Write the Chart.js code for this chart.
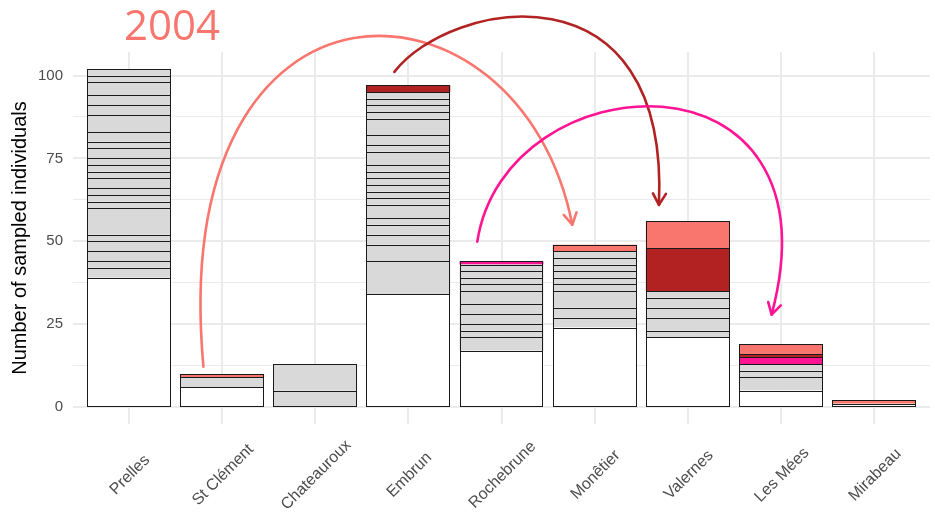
<!DOCTYPE html>
<html lang="en">
<head>
    <meta charset="UTF-8">
    <title>2004 - sampled individuals</title>
    <script src="https://cdn.jsdelivr.net/npm/chart.js"></script>
    <style>
        body { margin: 0; background: #fff; }
        #wrap { width: 935px; height: 516px; }
    </style>
</head>
<body>
    <div id="wrap"><canvas id="chart" width="935" height="516"></canvas></div>
    <script>
        // sites, left to right
        const sites = ['Prelles', 'St Clément', 'Chateauroux', 'Embrun', 'Rochebrune', 'Monêtier', 'Valernes', 'Les Mées', 'Mirabeau'];

        // individuals per group, stacked from the bottom
        const prelles     = [39, 3, 2, 3, 3, 2, 8, 2, 2, 2, 3, 2, 2, 2, 3, 2, 3, 5, 3, 3, 4, 2, 2];
        const stClement   = [6, 3, 1];
        const chateauroux = [5, 8];
        const embrun      = [34, 10, 5, 3, 3, 2, 4, 2, 2, 2, 2, 2, 2, 4, 2, 3, 5, 2, 2, 2, 2, 2];
        const rochebrune  = [17, 4, 2, 2, 3, 3, 4, 2, 2, 2, 2, 1];
        const monetier    = [24, 3, 3, 5, 2, 2, 2, 2, 2, 2, 2];
        const valernes    = [21, 2, 4, 3, 3, 2, 13, 8];
        const lesMees     = [5, 4, 2, 2, 2, 1, 3];
        const mirabeau    = [1, 1];

        // group kind of each segment: w = unshared, g = shared locally,
        // S / E / R = shared with St Clément / Embrun / Rochebrune lineage
        const prellesKind     = 'w ggggg ggggg ggggg ggggg gg';
        const stClementKind   = 'w g S';
        const chateaurouxKind = 'g g';
        const embrunKind      = 'w ggggg ggggg ggggg ggggg E';
        const rochebruneKind  = 'w ggggg ggggg R';
        const monetierKind    = 'w ggggg gggg S';
        const valernesKind    = 'w ggggg E S';
        const lesMeesKind     = 'w ggg R E S';
        const mirabeauKind    = 'w S';

        // migration arrows (x = site index, y = individuals)
        const arrowStart = [[0.80, 12.2], [2.85, 101.1], [3.74, 49.9]];
        const arrowCtrl1 = [[0.39, 139.5], [3.45, 122.9], [4.04, 104.8]];
        const arrowCtrl2 = [[4.20, 134.9], [5.81, 135.0], [7.68, 110.8]];
        const arrowEnd   = [[4.76, 55.0], [5.69, 61.0], [6.90, 27.9]];
        const arrowKind  = ['S', 'E', 'R'];

        const kindColors = { w: '#FFFFFF', g: '#D9D9D9', S: '#F8766D', E: '#B22222', R: '#FF1493' };

        const counts = [prelles, stClement, chateauroux, embrun, rochebrune, monetier, valernes, lesMees, mirabeau];
        const kinds = [prellesKind, stClementKind, chateaurouxKind, embrunKind, rochebruneKind,
                       monetierKind, valernesKind, lesMeesKind, mirabeauKind].map(k => k.replace(/ /g, '').split(''));

        const nLayers = Math.max(...counts.map(c => c.length));
        const datasets = [];
        for (let i = 0; i < nLayers; i++) {
            datasets.push({
                data: sites.map((s, c) => ({ x: c, y: counts[c][i] !== undefined ? counts[c][i] : null })),
                backgroundColor: sites.map((s, c) => kindColors[kinds[c][i]] || '#FFFFFF'),
                borderWidth: 0,
                barPercentage: 1,
                categoryPercentage: 0.9
            });
        }

        const maxTotal = Math.max(...counts.map(c => c.reduce((a, b) => a + b, 0)));
        const pad = maxTotal * 0.05;

        // crisp 1px outline round every bar segment (shared edges land on the same pixel row)
        const outlines = {
            id: 'outlines',
            afterDatasetsDraw(chart) {
                const ctx = chart.ctx;
                ctx.save();
                ctx.strokeStyle = '#1a1a1a';
                ctx.lineWidth = 1;
                chart.getSortedVisibleDatasetMetas().forEach(meta => {
                    meta.data.forEach((el, idx) => {
                        const v = meta._parsed[idx];
                        if (!v || v.y === null || v.y === undefined || isNaN(v.y)) return;
                        const p = el.getProps(['x', 'y', 'base', 'width'], true);
                        const l = Math.round(p.x - p.width / 2) + 0.5;
                        const r = Math.round(p.x + p.width / 2) - 0.5;
                        const t = Math.round(Math.min(p.y, p.base)) + 0.5;
                        const b = Math.round(Math.max(p.y, p.base)) + 0.5;
                        ctx.strokeRect(l, t, r - l, b - t);
                    });
                });
                ctx.restore();
            }
        };

        const extras = {
            id: 'extras',
            afterDraw(chart) {
                const ctx = chart.ctx;
                const xs = chart.scales.x, ys = chart.scales.y;
                const px = p => [xs.getPixelForValue(p[0]), ys.getPixelForValue(p[1])];

                // x labels, rotated 45 degrees and centred under each site
                ctx.save();
                ctx.fillStyle = '#4D4D4D';
                ctx.font = '16px "Liberation Sans", Arial, sans-serif';
                ctx.textAlign = 'center';
                ctx.textBaseline = 'middle';
                sites.forEach((s, i) => {
                    ctx.save();
                    ctx.translate(xs.getPixelForValue(i) + 1, 475);
                    ctx.rotate(-Math.PI / 4);
                    ctx.fillText(s, 0, 0);
                    ctx.restore();
                });
                ctx.restore();

                // year
                ctx.save();
                ctx.fillStyle = '#F8766D';
                ctx.font = '42px "Open Sans", sans-serif';
                ctx.textBaseline = 'alphabetic';
                ctx.fillText('2004', 124, 40);
                ctx.restore();

                // arrows
                for (let a = 0; a < arrowStart.length; a++) {
                    const p0 = px(arrowStart[a]), p1 = px(arrowCtrl1[a]), p2 = px(arrowCtrl2[a]), p3 = px(arrowEnd[a]);
                    ctx.save();
                    ctx.strokeStyle = kindColors[arrowKind[a]];
                    ctx.lineWidth = 2.6;
                    ctx.lineCap = 'round';
                    ctx.lineJoin = 'round';
                    ctx.beginPath();
                    ctx.moveTo(p0[0], p0[1]);
                    ctx.bezierCurveTo(p1[0], p1[1], p2[0], p2[1], p3[0], p3[1]);
                    ctx.stroke();
                    const ang = Math.atan2(p3[1] - p2[1], p3[0] - p2[0]);
                    const len = 13, spread = Math.PI / 6;
                    ctx.beginPath();
                    ctx.moveTo(p3[0] - len * Math.cos(ang - spread), p3[1] - len * Math.sin(ang - spread));
                    ctx.lineTo(p3[0], p3[1]);
                    ctx.lineTo(p3[0] - len * Math.cos(ang + spread), p3[1] - len * Math.sin(ang + spread));
                    ctx.stroke();
                    ctx.restore();
                }
            }
        };

        new Chart(document.getElementById('chart'), {
            type: 'bar',
            data: { datasets: datasets },
            options: {
                responsive: false,
                animation: false,
                layout: { padding: { top: 52, right: 5, bottom: 92, left: 0 } },
                plugins: { legend: { display: false }, tooltip: { enabled: false } },
                scales: {
                    x: {
                        type: 'linear',
                        stacked: true,
                        offset: false,
                        min: -0.6,
                        max: sites.length - 1 + 0.6,
                        afterBuildTicks: scale => { scale.ticks = sites.map((s, i) => ({ value: i })); },
                        afterFit: scale => { scale.height = 0; },
                        ticks: { display: false },
                        grid: { color: '#EBEBEB', lineWidth: 2, offset: false, drawTicks: false },
                        border: { display: false }
                    },
                    y: {
                        stacked: true,
                        min: -pad,
                        max: maxTotal + pad,
                        afterBuildTicks: scale => { scale.ticks = [0, 12.5, 25, 37.5, 50, 62.5, 75, 87.5, 100].map(v => ({ value: v })); },
                        afterFit: scale => { scale.width = 73; },
                        ticks: {
                            padding: 10,
                            color: '#4D4D4D',
                            font: { size: 15, family: '"Liberation Sans", Arial, sans-serif' },
                            callback: v => (v % 25 === 0 ? v : '')
                        },
                        grid: {
                            color: '#EBEBEB',
                            lineWidth: c => (c.tick && c.tick.value % 25 === 0 ? 2 : 1),
                            drawTicks: false
                        },
                        border: { display: false },
                        title: {
                            display: true,
                            text: 'Number of sampled individuals',
                            color: '#000000',
                            padding: { top: 8, bottom: 4 },
                            font: { size: 20, family: '"Liberation Sans", Arial, sans-serif' }
                        }
                    }
                }
            },
            plugins: [outlines, extras]
        });
    </script>
</body>
</html>
